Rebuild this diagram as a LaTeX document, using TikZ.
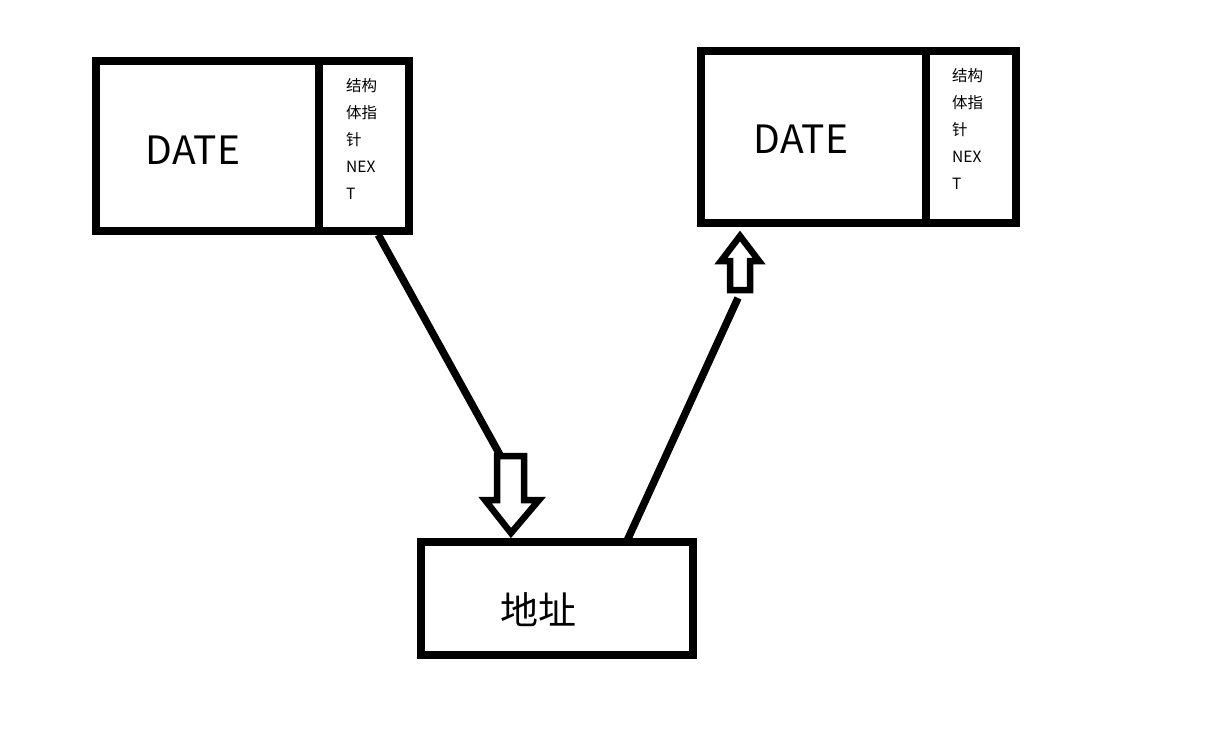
\documentclass[tikz,border=0pt]{standalone}
\usepackage{fontspec}
\setmainfont{Noto Sans CJK SC}
\begin{document}
\begin{tikzpicture}[x=1pt,y=-1pt,
  box/.style={draw=black,line width=7.5pt,rectangle,inner sep=0pt,minimum width=#1},
  bigtext/.style={font=\fontsize{39}{44}\selectfont,inner sep=0pt},
  smalltext/.style={font=\fontsize{15.5}{27}\selectfont,inner sep=0pt,align=left,anchor=north west},
  link/.style={line width=7.5pt},
  hollow/.style={draw=black,line width=6.5pt,fill=white,line join=miter}]
\useasboundingbox (0,0) rectangle (1227,734);
\fill[white] (0,0) rectangle (1227,734);
% box 1
\node[box=223pt,minimum height=170pt] (d1) at (207.5,146) {};
\node[box=90pt,minimum height=170pt] (n1) at (364,146) {};
\node[bigtext] (t1) at (193,150) {DATE};
\node[smalltext] (s1) at (346,78) {结构\\体指\\针\\NEX\\T};
% box 2
\node[box=225pt,minimum height=172pt] (d2) at (813.5,137) {};
\node[box=90pt,minimum height=172pt] (n2) at (971,137) {};
\node[bigtext] (t2) at (801,139) {DATE};
\node[smalltext] (s2) at (952,68) {结构\\体指\\针\\NEX\\T};
% box 3
\node[box=272pt,minimum height=113pt] (a) at (557,598.5) {};
\node[font=\fontsize{38}{44}\selectfont,inner sep=0pt] (at) at (538,610) {地址};
% down arrow
\coordinate (dtop) at (500,455);
\draw[hollow] (497,456) -- (524,456) -- (524,500) -- (539,500) -- (511,533) -- (485,500) -- (497,500) -- cycle;
\coordinate (dtip) at (511,533);
\draw[link] (n1.south west) ++(63,0) coordinate (l1s) -- (dtop);
% up arrow
\coordinate (ubot) at (738,298);
\draw[link] (a.north west) ++(210,2) coordinate (l2s) -- (ubot);
\draw[hollow] (730,290) -- (750,290) -- (750,261) -- (759,261) -- (740,236) -- (721,261) -- (730,261) -- cycle;
\end{tikzpicture}
\end{document}
